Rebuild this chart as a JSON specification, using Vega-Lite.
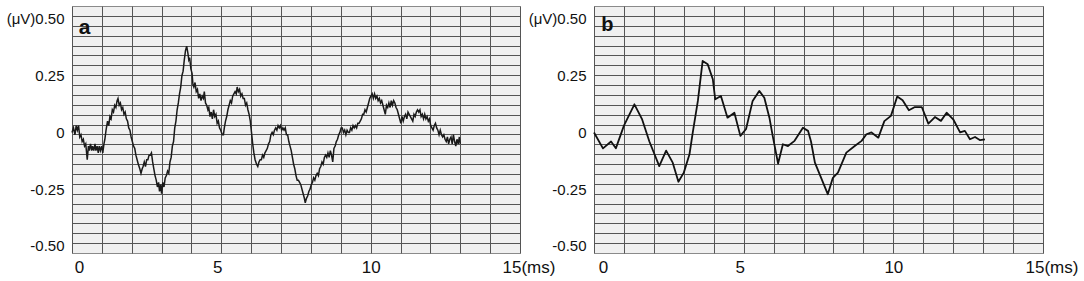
{
  "$schema": "https://vega.github.io/schema/vega-lite/v6.json",
  "background": "white",
  "padding": 5,
  "bounds": "flush",
  "spacing": 74,
  "config": {
    "view": {"stroke": "#8a8a8a", "strokeWidth": 1, "fill": "#f0f0f0"},
    "axis": {"labelFont": "Liberation Sans", "labelFontSize": 16, "labelColor": "#111", "ticks": false, "domain": false},
    "text": {"font": "Liberation Sans"}
  },
  "datasets": {
    "a": [
      {"t":0.00,"v":0.00},{"t":0.05,"v":0.02},{"t":0.10,"v":-0.01},{"t":0.14,"v":0.03},{"t":0.18,"v":0.01},{"t":0.22,"v":0.03},{"t":0.26,"v":-0.02},{"t":0.30,"v":-0.01},{"t":0.34,"v":-0.04},{"t":0.38,"v":-0.03},{"t":0.42,"v":-0.06},{"t":0.46,"v":-0.05},{"t":0.51,"v":-0.12},{"t":0.55,"v":-0.06},{"t":0.58,"v":-0.08},{"t":0.62,"v":-0.05},{"t":0.66,"v":-0.08},{"t":0.69,"v":-0.06},{"t":0.73,"v":-0.08},{"t":0.77,"v":-0.05},{"t":0.80,"v":-0.08},{"t":0.84,"v":-0.06},{"t":0.88,"v":-0.09},{"t":0.91,"v":-0.06},{"t":0.95,"v":-0.08},{"t":0.99,"v":-0.06},{"t":1.03,"v":-0.09},{"t":1.07,"v":-0.05},{"t":1.10,"v":-0.03},{"t":1.14,"v":0.01},{"t":1.19,"v":0.05},{"t":1.23,"v":0.03},{"t":1.27,"v":0.07},{"t":1.31,"v":0.06},{"t":1.35,"v":0.10},{"t":1.39,"v":0.09},{"t":1.43,"v":0.12},{"t":1.47,"v":0.11},{"t":1.51,"v":0.14},{"t":1.54,"v":0.15},{"t":1.58,"v":0.12},{"t":1.62,"v":0.13},{"t":1.66,"v":0.10},{"t":1.70,"v":0.11},{"t":1.74,"v":0.08},{"t":1.78,"v":0.09},{"t":1.82,"v":0.06},{"t":1.86,"v":0.05},{"t":1.90,"v":0.02},{"t":1.94,"v":0.01},{"t":1.98,"v":-0.02},{"t":2.02,"v":-0.04},{"t":2.06,"v":-0.06},{"t":2.10,"v":-0.07},{"t":2.14,"v":-0.10},{"t":2.18,"v":-0.12},{"t":2.22,"v":-0.14},{"t":2.27,"v":-0.16},{"t":2.31,"v":-0.18},{"t":2.35,"v":-0.16},{"t":2.38,"v":-0.15},{"t":2.42,"v":-0.13},{"t":2.46,"v":-0.15},{"t":2.50,"v":-0.12},{"t":2.54,"v":-0.12},{"t":2.58,"v":-0.10},{"t":2.62,"v":-0.10},{"t":2.66,"v":-0.09},{"t":2.70,"v":-0.13},{"t":2.74,"v":-0.16},{"t":2.78,"v":-0.19},{"t":2.82,"v":-0.21},{"t":2.86,"v":-0.24},{"t":2.90,"v":-0.22},{"t":2.93,"v":-0.26},{"t":2.97,"v":-0.23},{"t":3.00,"v":-0.27},{"t":3.04,"v":-0.22},{"t":3.08,"v":-0.24},{"t":3.12,"v":-0.20},{"t":3.16,"v":-0.19},{"t":3.20,"v":-0.17},{"t":3.24,"v":-0.18},{"t":3.28,"v":-0.13},{"t":3.32,"v":-0.11},{"t":3.36,"v":-0.06},{"t":3.40,"v":-0.04},{"t":3.44,"v":0.02},{"t":3.48,"v":0.05},{"t":3.52,"v":0.10},{"t":3.56,"v":0.13},{"t":3.60,"v":0.17},{"t":3.64,"v":0.20},{"t":3.68,"v":0.25},{"t":3.72,"v":0.27},{"t":3.76,"v":0.32},{"t":3.80,"v":0.36},{"t":3.84,"v":0.38},{"t":3.88,"v":0.35},{"t":3.91,"v":0.32},{"t":3.94,"v":0.33},{"t":3.98,"v":0.28},{"t":4.02,"v":0.26},{"t":4.05,"v":0.21},{"t":4.08,"v":0.20},{"t":4.12,"v":0.22},{"t":4.16,"v":0.18},{"t":4.20,"v":0.19},{"t":4.24,"v":0.15},{"t":4.28,"v":0.17},{"t":4.32,"v":0.14},{"t":4.36,"v":0.16},{"t":4.40,"v":0.15},{"t":4.43,"v":0.18},{"t":4.47,"v":0.13},{"t":4.51,"v":0.12},{"t":4.55,"v":0.10},{"t":4.58,"v":0.11},{"t":4.62,"v":0.07},{"t":4.66,"v":0.09},{"t":4.70,"v":0.06},{"t":4.74,"v":0.10},{"t":4.78,"v":0.07},{"t":4.82,"v":0.08},{"t":4.86,"v":0.04},{"t":4.90,"v":0.05},{"t":4.94,"v":0.02},{"t":4.98,"v":0.01},{"t":5.03,"v":-0.01},{"t":5.07,"v":-0.01},{"t":5.10,"v":0.02},{"t":5.14,"v":0.05},{"t":5.18,"v":0.07},{"t":5.22,"v":0.10},{"t":5.26,"v":0.12},{"t":5.30,"v":0.14},{"t":5.34,"v":0.13},{"t":5.38,"v":0.16},{"t":5.42,"v":0.17},{"t":5.46,"v":0.18},{"t":5.50,"v":0.17},{"t":5.53,"v":0.20},{"t":5.57,"v":0.18},{"t":5.61,"v":0.19},{"t":5.65,"v":0.16},{"t":5.69,"v":0.17},{"t":5.73,"v":0.15},{"t":5.77,"v":0.15},{"t":5.81,"v":0.12},{"t":5.85,"v":0.13},{"t":5.89,"v":0.10},{"t":5.93,"v":0.08},{"t":5.97,"v":0.05},{"t":6.01,"v":0.00},{"t":6.05,"v":-0.05},{"t":6.09,"v":-0.09},{"t":6.13,"v":-0.12},{"t":6.18,"v":-0.14},{"t":6.22,"v":-0.15},{"t":6.26,"v":-0.13},{"t":6.30,"v":-0.12},{"t":6.34,"v":-0.12},{"t":6.38,"v":-0.10},{"t":6.42,"v":-0.11},{"t":6.46,"v":-0.09},{"t":6.50,"v":-0.08},{"t":6.54,"v":-0.07},{"t":6.58,"v":-0.05},{"t":6.62,"v":-0.04},{"t":6.66,"v":-0.01},{"t":6.70,"v":0.00},{"t":6.74,"v":-0.01},{"t":6.78,"v":0.01},{"t":6.82,"v":0.02},{"t":6.86,"v":0.01},{"t":6.90,"v":0.03},{"t":6.94,"v":0.02},{"t":6.98,"v":0.03},{"t":7.02,"v":0.01},{"t":7.06,"v":0.02},{"t":7.10,"v":0.01},{"t":7.14,"v":0.02},{"t":7.18,"v":-0.01},{"t":7.22,"v":-0.01},{"t":7.26,"v":-0.04},{"t":7.30,"v":-0.06},{"t":7.34,"v":-0.08},{"t":7.38,"v":-0.11},{"t":7.42,"v":-0.14},{"t":7.46,"v":-0.16},{"t":7.50,"v":-0.19},{"t":7.54,"v":-0.21},{"t":7.58,"v":-0.21},{"t":7.62,"v":-0.22},{"t":7.66,"v":-0.23},{"t":7.70,"v":-0.25},{"t":7.74,"v":-0.27},{"t":7.78,"v":-0.29},{"t":7.81,"v":-0.31},{"t":7.85,"v":-0.29},{"t":7.89,"v":-0.28},{"t":7.93,"v":-0.26},{"t":7.97,"v":-0.25},{"t":8.01,"v":-0.23},{"t":8.05,"v":-0.22},{"t":8.09,"v":-0.20},{"t":8.13,"v":-0.21},{"t":8.17,"v":-0.19},{"t":8.21,"v":-0.18},{"t":8.25,"v":-0.19},{"t":8.29,"v":-0.16},{"t":8.33,"v":-0.15},{"t":8.37,"v":-0.13},{"t":8.41,"v":-0.14},{"t":8.45,"v":-0.11},{"t":8.49,"v":-0.10},{"t":8.53,"v":-0.11},{"t":8.57,"v":-0.09},{"t":8.61,"v":-0.11},{"t":8.65,"v":-0.08},{"t":8.69,"v":-0.10},{"t":8.73,"v":-0.13},{"t":8.77,"v":-0.07},{"t":8.81,"v":-0.06},{"t":8.85,"v":-0.04},{"t":8.89,"v":-0.03},{"t":8.93,"v":-0.01},{"t":8.97,"v":0.00},{"t":9.01,"v":0.02},{"t":9.05,"v":0.02},{"t":9.09,"v":0.00},{"t":9.13,"v":0.01},{"t":9.17,"v":-0.01},{"t":9.21,"v":0.01},{"t":9.25,"v":0.00},{"t":9.29,"v":0.00},{"t":9.33,"v":0.02},{"t":9.37,"v":0.01},{"t":9.41,"v":0.03},{"t":9.45,"v":0.02},{"t":9.49,"v":0.03},{"t":9.53,"v":0.02},{"t":9.57,"v":0.04},{"t":9.61,"v":0.04},{"t":9.65,"v":0.05},{"t":9.69,"v":0.06},{"t":9.73,"v":0.08},{"t":9.77,"v":0.08},{"t":9.81,"v":0.10},{"t":9.85,"v":0.09},{"t":9.89,"v":0.11},{"t":9.93,"v":0.13},{"t":9.97,"v":0.15},{"t":10.01,"v":0.16},{"t":10.05,"v":0.17},{"t":10.09,"v":0.15},{"t":10.13,"v":0.17},{"t":10.17,"v":0.15},{"t":10.21,"v":0.16},{"t":10.25,"v":0.14},{"t":10.29,"v":0.15},{"t":10.33,"v":0.13},{"t":10.37,"v":0.14},{"t":10.41,"v":0.12},{"t":10.45,"v":0.10},{"t":10.49,"v":0.08},{"t":10.53,"v":0.12},{"t":10.57,"v":0.11},{"t":10.61,"v":0.13},{"t":10.65,"v":0.11},{"t":10.69,"v":0.14},{"t":10.73,"v":0.12},{"t":10.77,"v":0.14},{"t":10.81,"v":0.13},{"t":10.85,"v":0.11},{"t":10.89,"v":0.10},{"t":10.93,"v":0.08},{"t":10.97,"v":0.06},{"t":11.01,"v":0.04},{"t":11.05,"v":0.07},{"t":11.09,"v":0.05},{"t":11.13,"v":0.07},{"t":11.17,"v":0.08},{"t":11.21,"v":0.06},{"t":11.25,"v":0.09},{"t":11.29,"v":0.08},{"t":11.33,"v":0.07},{"t":11.37,"v":0.06},{"t":11.41,"v":0.05},{"t":11.45,"v":0.08},{"t":11.49,"v":0.07},{"t":11.53,"v":0.09},{"t":11.57,"v":0.10},{"t":11.61,"v":0.09},{"t":11.65,"v":0.10},{"t":11.69,"v":0.07},{"t":11.73,"v":0.08},{"t":11.77,"v":0.06},{"t":11.81,"v":0.08},{"t":11.85,"v":0.06},{"t":11.89,"v":0.07},{"t":11.93,"v":0.05},{"t":11.97,"v":0.06},{"t":12.01,"v":0.03},{"t":12.05,"v":0.02},{"t":12.09,"v":0.01},{"t":12.13,"v":0.03},{"t":12.17,"v":0.04},{"t":12.21,"v":0.02},{"t":12.25,"v":0.01},{"t":12.29,"v":-0.01},{"t":12.33,"v":0.01},{"t":12.37,"v":-0.01},{"t":12.41,"v":-0.02},{"t":12.45,"v":-0.01},{"t":12.49,"v":-0.03},{"t":12.53,"v":-0.04},{"t":12.57,"v":-0.02},{"t":12.61,"v":-0.05},{"t":12.65,"v":-0.03},{"t":12.69,"v":-0.02},{"t":12.73,"v":-0.05},{"t":12.77,"v":-0.01},{"t":12.81,"v":-0.04},{"t":12.85,"v":-0.06},{"t":12.89,"v":-0.03},{"t":12.93,"v":-0.05},{"t":12.97,"v":-0.02},{"t":13.00,"v":-0.05}
    ],
    "b": [
      {"t":0.00,"v":0.00},{"t":0.30,"v":-0.07},{"t":0.57,"v":-0.04},{"t":0.73,"v":-0.07},{"t":1.00,"v":0.03},{"t":1.35,"v":0.124},{"t":1.60,"v":0.06},{"t":1.85,"v":-0.04},{"t":2.18,"v":-0.148},{"t":2.41,"v":-0.08},{"t":2.63,"v":-0.133},{"t":2.82,"v":-0.217},{"t":3.00,"v":-0.177},{"t":3.19,"v":-0.096},{"t":3.30,"v":0.0},{"t":3.47,"v":0.139},{"t":3.63,"v":0.315},{"t":3.80,"v":0.30},{"t":3.97,"v":0.234},{"t":4.05,"v":0.146},{"t":4.24,"v":0.161},{"t":4.46,"v":0.065},{"t":4.69,"v":0.087},{"t":4.89,"v":-0.015},{"t":5.08,"v":0.015},{"t":5.30,"v":0.139},{"t":5.52,"v":0.183},{"t":5.69,"v":0.153},{"t":5.86,"v":0.065},{"t":5.97,"v":-0.015},{"t":6.15,"v":-0.137},{"t":6.31,"v":-0.052},{"t":6.48,"v":-0.06},{"t":6.70,"v":-0.037},{"t":6.98,"v":0.021},{"t":7.15,"v":0.007},{"t":7.25,"v":-0.04},{"t":7.38,"v":-0.133},{"t":7.81,"v":-0.272},{"t":7.98,"v":-0.20},{"t":8.15,"v":-0.177},{"t":8.43,"v":-0.089},{"t":8.71,"v":-0.06},{"t":8.94,"v":-0.037},{"t":9.10,"v":-0.008},{"t":9.27,"v":0.0},{"t":9.50,"v":-0.023},{"t":9.70,"v":0.05},{"t":9.92,"v":0.073},{"t":10.13,"v":0.158},{"t":10.31,"v":0.142},{"t":10.52,"v":0.098},{"t":10.72,"v":0.112},{"t":10.95,"v":0.112},{"t":11.17,"v":0.039},{"t":11.39,"v":0.068},{"t":11.59,"v":0.051},{"t":11.78,"v":0.087},{"t":12.00,"v":0.058},{"t":12.23,"v":0.0},{"t":12.39,"v":0.007},{"t":12.56,"v":-0.03},{"t":12.73,"v":-0.02},{"t":12.90,"v":-0.034},{"t":13.06,"v":-0.03}
    ]
  },
  "hconcat": [
    {
      "width": 448,
      "height": 247,
      "resolve": {"axis": {"x": "independent", "y": "independent"}},
      "layer": [
        {
          "data": {"name": "a"},
          "mark": {"type": "line", "color": "#1a1a1a", "strokeWidth": 1.5, "strokeJoin": "miter"},
          "encoding": {
            "x": {"field": "t", "type": "quantitative", "scale": {"domain": [0, 15], "nice": false},
              "axis": {"title": null, "values": [1,2,3,4,5,6,7,8,9,10,11,12,13,14,0,15], "grid": true, "gridColor": "#555", "gridWidth": 1, "gridOpacity": 1, "labelPadding": 6, "labelFontSize": 17,
                "labelExpr": "datum.value == 15 ? '15(ms)' : (datum.value % 5 == 0 ? datum.label : '')",
                "labelAlign": {"condition": {"test": "datum.value == 15", "value": "left"}, "value": "center"},
                "labelOffset": {"condition": [{"test": "datum.value == 15", "value": -18}, {"test": "datum.value == 0", "value": 7}, {"test": "datum.value == 5", "value": -4}], "value": 0},
                "labelFlush": false, "labelOverlap": false}},
            "y": {"field": "v", "type": "quantitative", "scale": {"domain": [-0.531, 0.557], "nice": false, "zero": false},
              "axis": {"title": null, "values": [-0.5, -0.25, 0, 0.25, 0.5], "grid": false, "labelFontSize": 15, "labelPadding": 8, "labelFlush": false, "labelOverlap": false,
                "labelExpr": "datum.value == 0.5 ? '(μV)0.50' : (datum.value == 0 ? '0' : (datum.value < 0 ? '-' : '') + format(abs(datum.value), '.2f'))"}}
          }
        },
        {
          "data": {"values": [{"label": "a", "t": 0.23, "v": 0.435}]},
          "mark": {"type": "text", "fontSize": 21, "fontWeight": "bold", "align": "left", "baseline": "alphabetic", "color": "#111"},
          "encoding": {
            "x": {"field": "t", "type": "quantitative", "axis": null},
            "y": {"field": "v", "type": "quantitative",
              "axis": {"orient": "left", "title": null, "labels": false, "grid": true, "gridColor": "#555", "gridWidth": 1, "gridOpacity": 1,
                "values": [0.5135, 0.47, 0.4264, 0.3829, 0.3394, 0.2959, 0.2524, 0.2088, 0.1653, 0.1218, 0.0783, 0.0348, -0.0088, -0.0523, -0.0958, -0.1393, -0.1828, -0.2264, -0.2699, -0.3134, -0.3569, -0.4004, -0.444, -0.4875]}},
            "text": {"field": "label"}
          }
        }
      ]
    },
    {
      "width": 449,
      "height": 247,
      "resolve": {"axis": {"x": "independent", "y": "independent"}},
      "layer": [
        {
          "data": {"name": "b"},
          "mark": {"type": "line", "color": "#111", "strokeWidth": 1.8, "strokeJoin": "round"},
          "encoding": {
            "x": {"field": "t", "type": "quantitative", "scale": {"domain": [0, 15], "nice": false},
              "axis": {"title": null, "values": [1,2,3,4,5,6,7,8,9,10,11,12,13,14,0,15], "grid": true, "gridColor": "#555", "gridWidth": 1, "gridOpacity": 1, "labelPadding": 6, "labelFontSize": 17,
                "labelExpr": "datum.value == 15 ? '15(ms)' : (datum.value % 5 == 0 ? datum.label : '')",
                "labelAlign": {"condition": {"test": "datum.value == 15", "value": "left"}, "value": "center"},
                "labelOffset": {"condition": [{"test": "datum.value == 15", "value": -18}, {"test": "datum.value == 0", "value": 9}, {"test": "datum.value == 5", "value": -4}], "value": 0},
                "labelFlush": false, "labelOverlap": false}},
            "y": {"field": "v", "type": "quantitative", "scale": {"domain": [-0.531, 0.557], "nice": false, "zero": false},
              "axis": {"title": null, "values": [-0.5, -0.25, 0, 0.25, 0.5], "grid": false, "labelFontSize": 15, "labelPadding": 8, "labelFlush": false, "labelOverlap": false,
                "labelExpr": "datum.value == 0.5 ? '(μV)0.50' : (datum.value == 0 ? '0' : (datum.value < 0 ? '-' : '') + format(abs(datum.value), '.2f'))"}}
          }
        },
        {
          "data": {"values": [{"label": "b", "t": 0.24, "v": 0.445}]},
          "mark": {"type": "text", "fontSize": 20, "fontWeight": "bold", "align": "left", "baseline": "alphabetic", "color": "#111"},
          "encoding": {
            "x": {"field": "t", "type": "quantitative", "axis": null},
            "y": {"field": "v", "type": "quantitative",
              "axis": {"orient": "left", "title": null, "labels": false, "grid": true, "gridColor": "#555", "gridWidth": 1, "gridOpacity": 1,
                "values": [0.5135, 0.47, 0.4264, 0.3829, 0.3394, 0.2959, 0.2524, 0.2088, 0.1653, 0.1218, 0.0783, 0.0348, -0.0088, -0.0523, -0.0958, -0.1393, -0.1828, -0.2264, -0.2699, -0.3134, -0.3569, -0.4004, -0.444, -0.4875]}},
            "text": {"field": "label"}
          }
        }
      ]
    }
  ]
}
